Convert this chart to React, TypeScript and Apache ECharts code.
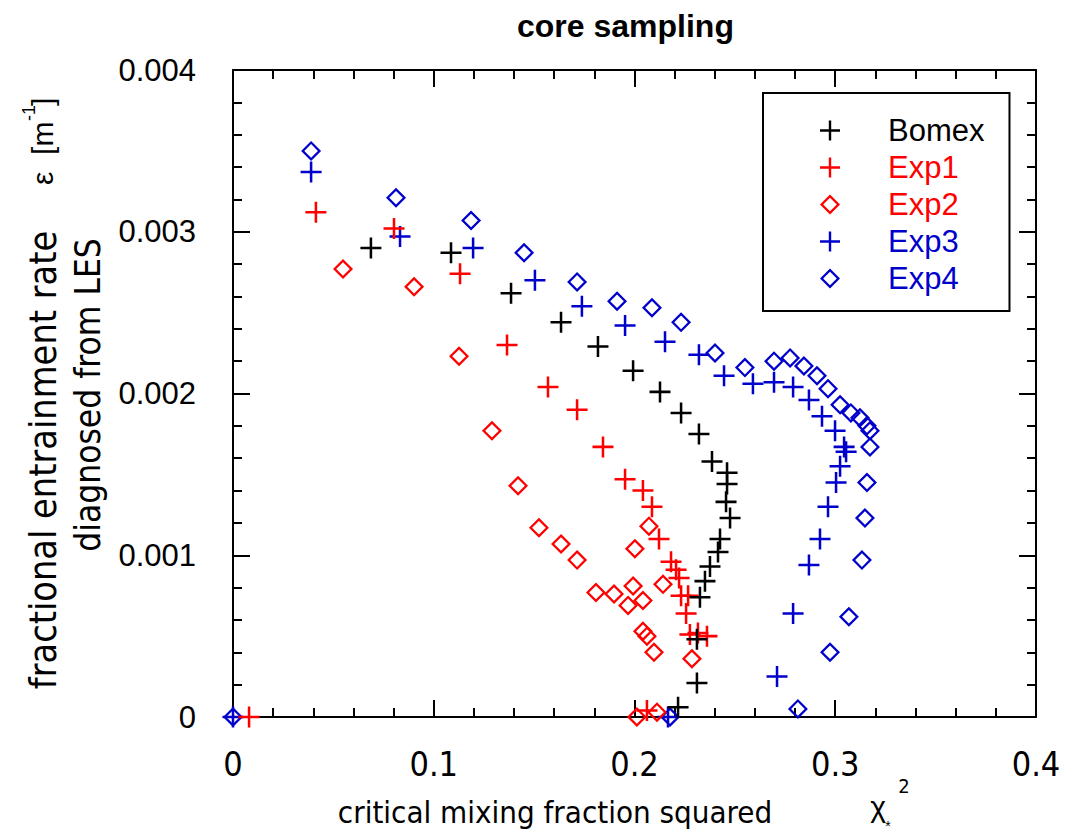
import React, { useEffect, useRef } from "react";
import * as echarts from "echarts";

const xTicks = [0, 0.1, 0.2, 0.3, 0.4];
const yTicks = [0, 0.001, 0.002, 0.003, 0.004];
const seriesNames = ["Bomex", "Exp1", "Exp2", "Exp3", "Exp4"];
const seriesColors = ["#000000", "#ff0000", "#ff0000", "#0000cc", "#0000cc"];

const bomex = [
  [0.0687, 0.0029], [0.1086, 0.00287], [0.1385, 0.00262], [0.1634, 0.00244], [0.1818, 0.00229],
  [0.1993, 0.00214], [0.2127, 0.00201], [0.2232, 0.00188], [0.2321, 0.00175], [0.2386, 0.00158],
  [0.2461, 0.00151], [0.2461, 0.00144], [0.2456, 0.00133], [0.2476, 0.00123], [0.2426, 0.0011],
  [0.2416, 0.00102], [0.2376, 0.00093], [0.2351, 0.00084], [0.2326, 0.00074], [0.2311, 0.00048],
  [0.2311, 0.00021], [0.2217, 0.00006],
];
const exp1 = [
  [0.008, 0], [0.0413, 0.00312], [0.0802, 0.00302], [0.1131, 0.00274], [0.1365, 0.0023],
  [0.1569, 0.00204], [0.1714, 0.0019], [0.1843, 0.00167], [0.1953, 0.00147], [0.2042, 0.0014],
  [0.2087, 0.0013], [0.2122, 0.0011], [0.2182, 0.00096], [0.2207, 0.00091], [0.2222, 0.00086],
  [0.2232, 0.00075], [0.2267, 0.00075], [0.2257, 0.00064], [0.2276, 0.00051], [0.2316, 0.00052],
  [0.2361, 0.0005], [0.2062, 0.00004],
];
const exp2 = [
  [0.0548, 0.00277], [0.0902, 0.00266], [0.1126, 0.00223], [0.129, 0.00177], [0.142, 0.00143],
  [0.1524, 0.00117], [0.1634, 0.00107], [0.1714, 0.00097], [0.1808, 0.00077], [0.1898, 0.00076],
  [0.1968, 0.00069], [0.1993, 0.00081], [0.2042, 0.00072], [0.2002, 0.00104], [0.2072, 0.00118],
  [0.2142, 0.00082], [0.2042, 0.00053], [0.2062, 0.0005], [0.2097, 0.0004], [0.2286, 0.00036],
  [0.2012, 0], [0.2112, 0.00003],
];
const exp3 = [
  [0, 0], [0.0389, 0.00337], [0.0832, 0.00297], [0.1196, 0.0029], [0.1504, 0.0027],
  [0.1738, 0.00254], [0.1953, 0.00242], [0.2152, 0.00232], [0.2321, 0.00224], [0.2446, 0.00211],
  [0.259, 0.00206], [0.2695, 0.00207], [0.279, 0.00204], [0.2869, 0.00196], [0.2934, 0.00186],
  [0.2999, 0.00177], [0.3044, 0.00167], [0.3054, 0.00164], [0.3024, 0.00155], [0.3004, 0.00145],
  [0.2964, 0.0013], [0.2924, 0.0011], [0.2869, 0.00094], [0.279, 0.00064], [0.271, 0.00025],
  [0.2167, 0],
];
const exp4 = [
  [0, 0], [0.0389, 0.0035], [0.0812, 0.00321], [0.1186, 0.00307], [0.145, 0.00287],
  [0.1714, 0.00269], [0.1913, 0.00257], [0.2087, 0.00253], [0.2232, 0.00244], [0.2401, 0.00225],
  [0.255, 0.00216], [0.2695, 0.0022], [0.2775, 0.00222], [0.2844, 0.00217], [0.2909, 0.00211],
  [0.2964, 0.00203], [0.3024, 0.00193], [0.3078, 0.00188], [0.3123, 0.00185], [0.3158, 0.0018],
  [0.3173, 0.00177], [0.3173, 0.00167], [0.3158, 0.00145], [0.3148, 0.00123], [0.3133, 0.00097],
  [0.3068, 0.00062], [0.2974, 0.0004], [0.2814, 0.00005], [0.2177, 0],
];

const seriesData = [bomex, exp1, exp2, exp3, exp4];
const CROSS =
  "path://M-1,-0.12 L-0.12,-0.12 L-0.12,-1 L0.12,-1 L0.12,-0.12 L1,-0.12 L1,0.12 L0.12,0.12 L0.12,1 L-0.12,1 L-0.12,0.12 L-1,0.12 Z";
const DIAMOND = "path://M0,-1 L1,0 L0,1 L-1,0 Z M0,-0.68 L-0.68,0 L0,0.68 L0.68,0 Z";
const seriesSymbols = [CROSS, CROSS, DIAMOND, CROSS, DIAMOND];

const FONT = "'Liberation Sans', Arial, sans-serif";
const NARROW = "'Liberation Sans Narrow', 'Arial Narrow', 'DejaVu Sans Condensed', 'Liberation Sans', sans-serif";

export default function App() {
  const ref = useRef<HTMLDivElement>(null);
  useEffect(() => {
    if (!ref.current) return;
    const chart = echarts.init(ref.current, null, { renderer: "svg" });
    const axisCommon = {
      axisLine: { show: true, onZero: false, lineStyle: { color: "#000", width: 2 } },
      axisTick: { show: true, inside: true, length: 17, lineStyle: { color: "#000", width: 2 } },
      minorTick: { show: true, splitNumber: 5, length: 9, lineStyle: { color: "#000", width: 2 } },
      splitLine: { show: false },
    };
    const option: any = {
      animation: false,
      backgroundColor: "#fff",
      textStyle: { fontFamily: FONT },
      title: {
        text: "core sampling",
        left: 512,
        top: 5,
        textStyle: { fontFamily: FONT, fontWeight: "bold", fontSize: 32, color: "#000" },
      },
      grid: { left: 233, right: 30, top: 70, bottom: 118 },
      xAxis: [
        {
          type: "value",
          position: "bottom",
          min: xTicks[0],
          max: xTicks[xTicks.length - 1],
          interval: 0.1,
          ...axisCommon,
          axisLabel: {
            show: true,
            margin: 30,
            fontSize: 34,
            fontFamily: NARROW,
            color: "#000",
            formatter: (v: number) => String(+v.toFixed(1)),
          },
        },
        {
          type: "value",
          position: "top",
          min: xTicks[0],
          max: xTicks[xTicks.length - 1],
          interval: 0.1,
          ...axisCommon,
          axisLabel: { show: false },
        },
      ],
      yAxis: [
        {
          type: "value",
          position: "left",
          min: yTicks[0],
          max: yTicks[yTicks.length - 1],
          interval: 0.001,
          ...axisCommon,
          axisLabel: {
            show: true,
            margin: 37,
            fontSize: 31,
            fontFamily: FONT,
            color: "#000",
            formatter: (v: number) => (v === 0 ? "0" : v.toFixed(3)),
          },
        },
        {
          type: "value",
          position: "right",
          min: yTicks[0],
          max: yTicks[yTicks.length - 1],
          interval: 0.001,
          ...axisCommon,
          axisLabel: { show: false },
        },
      ],
      legend: {
        orient: "vertical",
        left: 763,
        top: 93,
        padding: [22, 25, 17, 57],
        itemWidth: 20,
        itemHeight: 20,
        itemGap: 6,
        borderColor: "#000",
        borderWidth: 2,
        backgroundColor: "#fff",
        textStyle: { fontSize: 31, fontFamily: FONT, padding: [0, 0, 0, 43] },
        data: seriesNames.map((n, i) => ({ name: n, textStyle: { color: seriesColors[i] } })),
      },
      series: seriesNames.map((n, i) => ({
        name: n,
        type: "scatter",
        data: seriesData[i],
        symbol: seriesSymbols[i],
        symbolSize: seriesSymbols[i] === CROSS ? 21 : 20,
        symbolKeepAspect: true,
        clip: false,
        itemStyle: { color: seriesColors[i], opacity: 1 },
        emphasis: { disabled: true },
        z: 5 - i,
      })),
      graphic: [
        {
          type: "text",
          x: 555,
          y: 812,
          style: {
            text: "critical mixing fraction squared",
            font: `31px ${NARROW}`,
            fill: "#000",
            textAlign: "center",
            textVerticalAlign: "middle",
          },
        },
        {
          type: "text",
          x: 878,
          y: 806,
          style: { text: "χ", font: `30px ${FONT}`, fill: "#000", textAlign: "center", textVerticalAlign: "middle" },
        },
        {
          type: "text",
          x: 888,
          y: 826,
          style: { text: "*", font: `14px ${FONT}`, fill: "#000", textAlign: "center", textVerticalAlign: "middle" },
        },
        {
          type: "text",
          x: 904,
          y: 786,
          style: { text: "2", font: `20px ${NARROW}`, fill: "#000", textAlign: "center", textVerticalAlign: "middle" },
        },
        {
          type: "text",
          x: 43,
          y: 460,
          rotation: Math.PI / 2,
          style: {
            text: "fractional entrainment rate",
            font: `37.5px ${NARROW}`,
            fill: "#000",
            textAlign: "center",
            textVerticalAlign: "middle",
          },
        },
        {
          type: "text",
          x: 88,
          y: 395,
          rotation: Math.PI / 2,
          style: {
            text: "diagnosed from LES",
            font: `35px ${NARROW}`,
            fill: "#000",
            textAlign: "center",
            textVerticalAlign: "middle",
          },
        },
        {
          type: "text",
          x: 42,
          y: 185,
          rotation: Math.PI / 2,
          style: { text: "ε  [m", font: `30px ${FONT}`, fill: "#000", textAlign: "left", textVerticalAlign: "middle" },
        },
        {
          type: "text",
          x: 29,
          y: 121,
          rotation: Math.PI / 2,
          style: { text: "-1", font: `18px ${FONT}`, fill: "#000", textAlign: "left", textVerticalAlign: "middle" },
        },
        {
          type: "text",
          x: 42,
          y: 106,
          rotation: Math.PI / 2,
          style: { text: "]", font: `30px ${FONT}`, fill: "#000", textAlign: "left", textVerticalAlign: "middle" },
        },
      ],
    };
    chart.setOption(option);
    return () => chart.dispose();
  }, []);
  return (
    <div
      ref={ref}
      style={{ position: "fixed", left: 0, top: 0, width: 1066, height: 835, background: "#fff" }}
    />
  );
}
